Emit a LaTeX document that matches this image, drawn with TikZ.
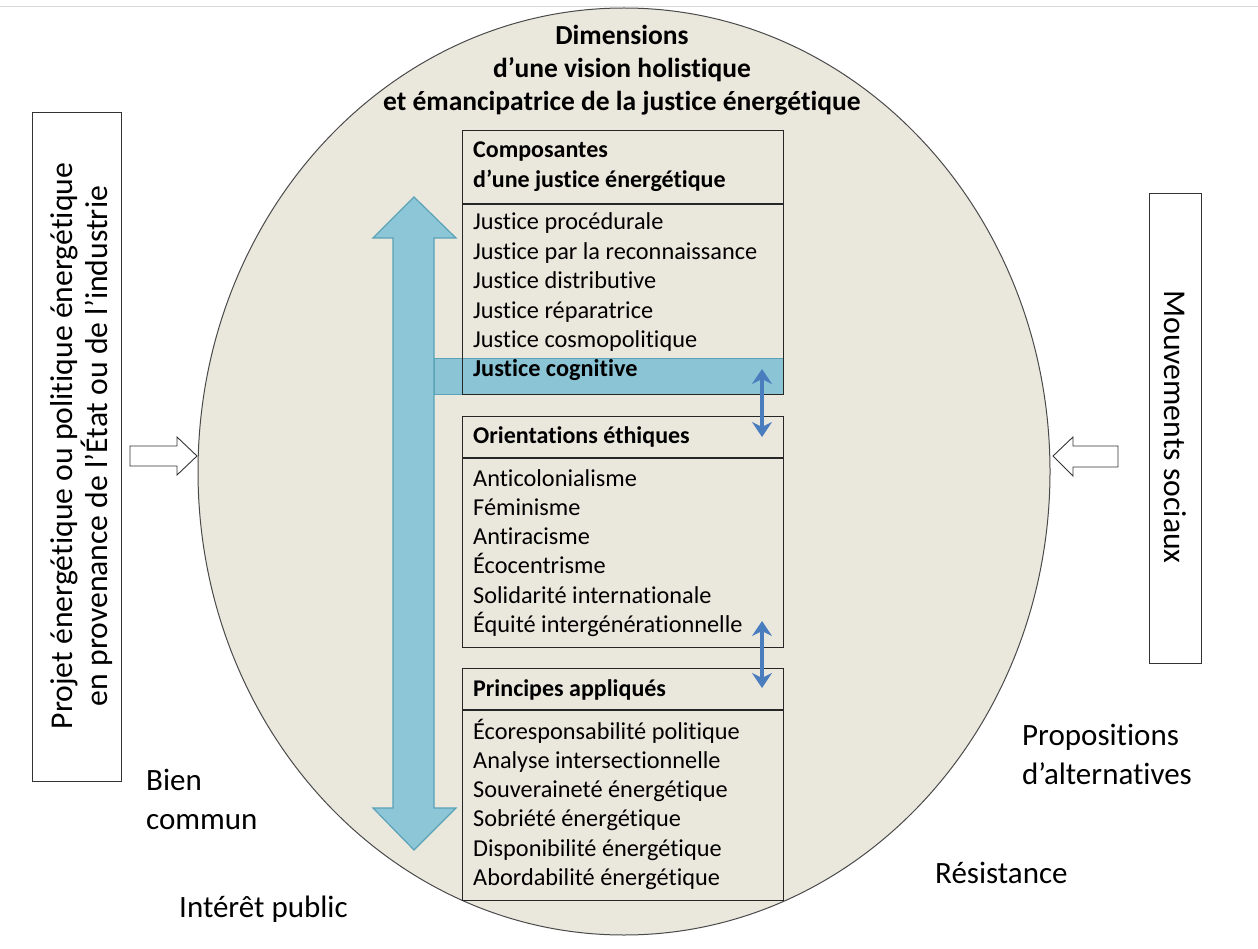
\documentclass[tikz,border=0pt]{standalone}
\usepackage{fontspec}
\setmainfont{Carlito}[Ligatures={NoCommon}]
\usetikzlibrary{shapes.geometric,arrows.meta}
\definecolor{beige}{HTML}{EAE7DD}
\definecolor{ellborder}{HTML}{4A4A4A}
\definecolor{bigfill}{HTML}{8CC6D7}
\definecolor{bigborder}{HTML}{5AA2B8}
\definecolor{bandfill}{HTML}{8AC4D5}
\definecolor{smallblue}{HTML}{4A7DBE}
\definecolor{topline}{HTML}{DADADA}
\tikzset{
  item/.style={anchor=base west, font=\fontsize{24.3}{29}\selectfont, inner sep=0pt},
  itembold/.style={item, font=\bfseries\fontsize{24.3}{29}\selectfont},
  head/.style={anchor=base west, font=\bfseries\fontsize{24}{27}\selectfont, inner sep=0pt},
  titletext/.style={anchor=base, font=\bfseries\fontsize{27.5}{32}\selectfont, inner sep=0pt},
  lab/.style={anchor=base west, font=\fontsize{31}{38}\selectfont, inner sep=0pt},
  sidetext/.style={font=\fontsize{31.7}{35}\selectfont, inner sep=0pt, align=center},
  boxframe/.style={draw=black!85, line width=1.1pt, minimum width=321pt, anchor=north west, inner sep=0pt},
  sidebox/.style={draw=black!80, line width=1pt, anchor=north west, inner sep=0pt, fill=white},
  hollow/.style={draw=black!80, line width=0.9pt, fill=white},
  smallarr/.style={draw=smallblue, line width=3.2pt, {Stealth[length=15pt,width=20pt]}-{Stealth[length=15pt,width=20pt]}},
}
\begin{document}
\begin{tikzpicture}[x=1pt,y=-1pt]
\useasboundingbox[fill=white] (0,0) rectangle (1258,949);
\draw[topline, line width=1pt] (0,7) -- (1258,7);

% main ellipse
\node[ellipse, draw=ellborder, line width=1pt, fill=beige, minimum width=852pt, minimum height=927pt, inner sep=0pt] (ell) at (624,471.5) {};

% title
\node[titletext] (t1) at (622,45) {Dimensions};
\node[titletext] (t2) at (622,78) {d’une vision holistique};
\node[titletext] (t3) at (622,110.5) {et émancipatrice de la justice énergétique};

% big double arrow
\draw[fill=bigfill, draw=bigborder, line width=1.2pt, line join=miter]
  (414,197) -- (456,238) -- (434,238) -- (434,808) -- (456,808) -- (414,850)
  -- (373,808) -- (393,808) -- (393,238) -- (373,238) -- cycle;

% band for Justice cognitive
\draw[fill=bandfill, draw=bigborder, line width=0.8pt] (434,358) rectangle (783,394);

% box 1
\node[boxframe, minimum height=264pt] (b1) at (462,130) {};
\draw[black!85, line width=1.1pt] (462,204) -- (783,204);
\node[head] (h1a) at (473,158) {Composantes};
\node[head] (h1b) at (473,188) {d’une justice énergétique};
\foreach \t [count=\i] in {Justice procédurale,Justice par la reconnaissance,Justice distributive,Justice réparatrice,Justice cosmopolitique}
  \node[item] (c\i) at (473,{230+29.4*(\i-1)}) {\t};
\node[itembold] (c6) at (473,377) {Justice cognitive};

% box 2
\node[boxframe, minimum height=231pt] (b2) at (462,416) {};
\draw[black!85, line width=1.1pt] (462,458) -- (783,458);
\node[head] (h2) at (473,443) {Orientations éthiques};
\foreach \t [count=\i] in {Anticolonialisme,Féminisme,Antiracisme,Écocentrisme,Solidarité internationale,Équité intergénérationnelle}
  \node[item] (o\i) at (473,{486+29.3*(\i-1)}) {\t};

% box 3
\node[boxframe, minimum height=232pt] (b3) at (462,668) {};
\draw[black!85, line width=1.1pt] (462,710) -- (783,710);
\node[head] (h3) at (473,696) {Principes appliqués};
\foreach \t [count=\i] in {Écoresponsabilité politique,Analyse intersectionnelle,Souveraineté énergétique,Sobriété énergétique,Disponibilité énergétique,Abordabilité énergétique}
  \node[item] (p\i) at (473,{739+29.3*(\i-1)}) {\t};

% small double arrows
\coordinate (s1a) at (762,369);
\coordinate (s1b) at (762,437);
\coordinate (s2a) at (762,621);
\coordinate (s2b) at (762,688);
\draw[smallarr] (s1a) -- (s1b);
\draw[smallarr] (s2a) -- (s2b);

% left side box
\node[sidebox, minimum width=89pt, minimum height=669pt] (lb) at (32,112) {};
\node[sidetext, rotate=90] (lt) at (82,446) {Projet énergétique ou politique énergétique\\en provenance de l’État ou de l’industrie};
\draw[hollow] (130,446) -- (177,446) -- (177,437) -- (197,456) -- (177,475) -- (177,466) -- (130,466) -- cycle;

% right side box
\node[sidebox, minimum width=52pt, minimum height=470pt] (rb) at (1149,193) {};
\node[sidetext, rotate=-90] (rt) at (1175,427) {Mouvements sociaux};
\draw[hollow] (1118,446) -- (1073,446) -- (1073,437) -- (1053,456) -- (1073,476) -- (1073,467) -- (1118,467) -- cycle;

% outer labels
\node[lab] (l1) at (146,790) {Bien};
\node[lab] (l2) at (146,829) {commun};
\node[lab] (l3) at (179,917) {Intérêt public};
\node[lab] (l4) at (1022,745) {Propositions};
\node[lab] (l5) at (1022,784) {d’alternatives};
\node[lab] (l6) at (935,883) {Résistance};
\end{tikzpicture}
\end{document}
